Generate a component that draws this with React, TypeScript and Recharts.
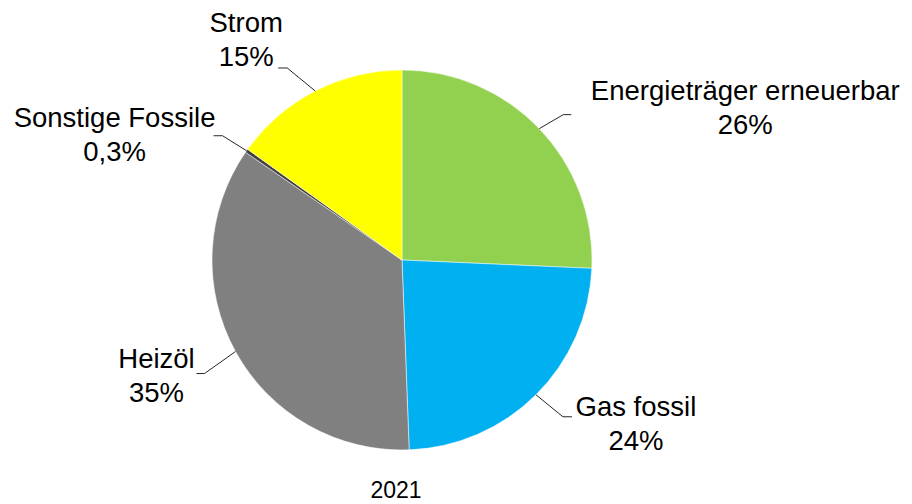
import { PieChart, Pie, Cell } from "recharts"

// Anteile am Energieverbrauch 2021 (im Uhrzeigersinn ab 12 Uhr)
const categories = [
  "Energieträger erneuerbar",
  "Gas fossil",
  "Heizöl",
  "Sonstige Fossile",
  "Strom",
]
const shares = [25.7, 23.7, 35.2, 0.3, 15.1]
const shareLabels = ["26%", "24%", "35%", "0,3%", "15%"]
const colors = ["#92D050", "#00B0F0", "#808080", "#404040", "#FFFF00"]
const yearLabel = "2021"

const data = categories.map((name, i) => ({
  name,
  value: shares[i],
  label: shareLabels[i],
}))

// Führungslinien: Knick relativ zum Kreisrand, kurzes waagrechtes Stück,
// Text relativ zum Ende der Linie (erste Grundlinie)
const labelLayout = [
  { elbow: [24, -14], tail: 8, text: [174, -15] },
  { elbow: [27, 22], tail: 9, text: [64, -1] },
  { elbow: [-31, 22], tail: -8, text: [-40, -6] },
  { elbow: [-24, -15], tail: -9, text: [-99, -9] },
  { elbow: [-28, -23], tail: -9, text: [-32, -36] },
]

const RADIAN = Math.PI / 180
const FONT = "'Liberation Sans', Arial, sans-serif"

function renderLabel(props: any) {
  const { cx, cy, midAngle, outerRadius, index } = props
  const layout = labelLayout[index]
  const x0 = cx + outerRadius * Math.cos(-midAngle * RADIAN)
  const y0 = cy + outerRadius * Math.sin(-midAngle * RADIAN)
  const x1 = x0 + layout.elbow[0]
  const y1 = y0 + layout.elbow[1]
  const x2 = x1 + layout.tail
  const tx = x2 + layout.text[0]
  const ty = y1 + layout.text[1]

  return (
    <g key={`label-${index}`}>
      <polyline
        points={`${x0},${y0} ${x1},${y1} ${x2},${y1}`}
        fill="none"
        stroke="#262626"
        strokeWidth={1}
      />
      <text
        x={tx}
        y={ty}
        textAnchor="middle"
        fill="#000"
        fontSize={27.5}
        fontFamily={FONT}
      >
        <tspan x={tx} dy={0}>
          {categories[index]}
        </tspan>
        <tspan x={tx} dy={34.5}>
          {shareLabels[index]}
        </tspan>
      </text>
    </g>
  )
}

export default function App() {
  return (
    <div
      style={{
        position: "absolute",
        left: 0,
        top: 0,
        width: 912,
        height: 504,
        background: "#fff",
      }}
    >
      <PieChart
        width={912}
        height={504}
        margin={{ top: 0, right: 0, bottom: 0, left: 0 }}
      >
        <Pie
          data={data}
          dataKey="value"
          nameKey="name"
          cx={402}
          cy={260}
          outerRadius={190}
          startAngle={90}
          endAngle={-270}
          stroke="#fff"
          strokeWidth={0.5}
          label={renderLabel}
          labelLine={false}
          isAnimationActive={false}
        >
          {data.map((entry, i) => (
            <Cell key={entry.name} fill={colors[i]} />
          ))}
        </Pie>
      </PieChart>
      <div
        style={{
          position: "absolute",
          left: 0,
          width: 792,
          top: 477,
          textAlign: "center",
          fontFamily: FONT,
          fontSize: 23,
          lineHeight: "26px",
          color: "#000",
        }}
      >
        {yearLabel}
      </div>
    </div>
  )
}
